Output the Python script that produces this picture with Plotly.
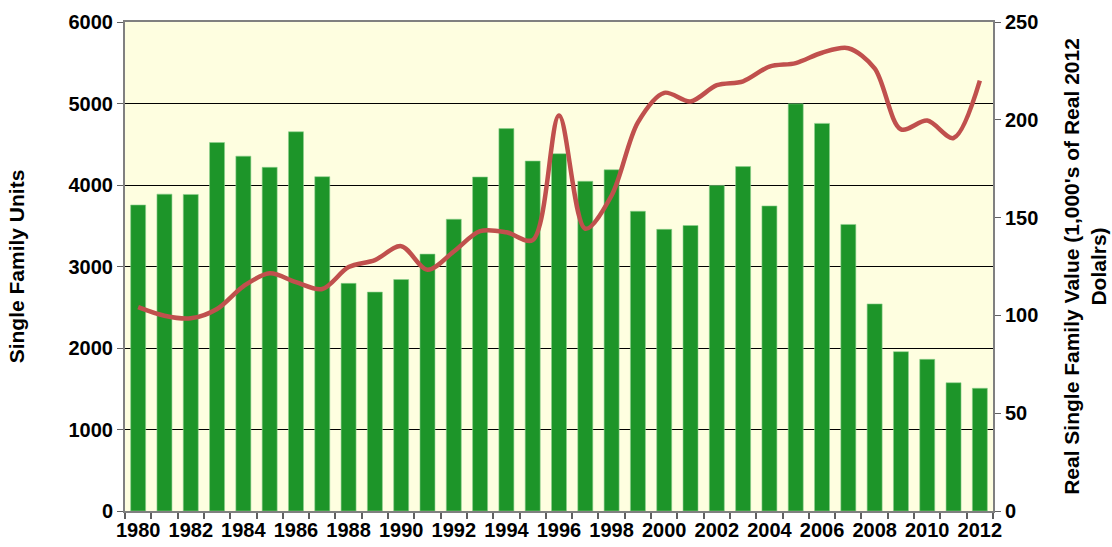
import plotly.graph_objects as go

years = list(range(1980, 2013))
units = [3755, 3888, 3884, 4521, 4354, 4217, 4653, 4102, 2793, 2686,
         2840, 3152, 3580, 4098, 4692, 4294, 4384, 4046, 4187, 3678,
         3456, 3503, 3995, 4226, 3743, 4996, 4756, 3516, 2541, 1955,
         1861, 1574, 1506]
value = [104.2, 99.8, 98.5, 103.3, 114.9, 121.5, 117.0, 113.5, 124.7, 128.3,
         135.4, 123.3, 132.7, 143.1, 142.5, 138.5, 202.2, 144.3, 161.3, 198.7,
         213.8, 209.4, 217.7, 219.7, 227.2, 229.0, 234.3, 236.6, 226.3, 195.1,
         199.6, 190.7, 220.0]
year_labels = [y for y in years if y % 2 == 0]

font = "Liberation Sans, Arial, sans-serif"

fig = go.Figure()
fig.add_trace(go.Bar(x=years, y=units, name="Single Family Units",
                     marker=dict(color="#1d9529", line=dict(color="#8fd08f", width=0.6))))
fig.add_trace(go.Scatter(x=years, y=value, yaxis="y2", mode="lines",
                         name="Real Single Family Value",
                         line=dict(color="#c0504d", width=4.5, shape="spline", smoothing=0.9)))

fig.update_layout(
    width=1112, height=547,
    margin=dict(l=125, r=119, t=22, b=36, autoexpand=False),
    paper_bgcolor="white",
    plot_bgcolor="#fefee0",
    showlegend=False,
    bargap=0.43,
    font=dict(family=font, color="black"),
    xaxis=dict(range=[1979.5, 2012.5], tickvals=year_labels,
               ticktext=["<b>%d</b>" % y for y in year_labels],
               tickfont=dict(size=20), ticks="", showgrid=False, automargin=False,
               showline=True, linecolor="#808080", linewidth=2, mirror=True,
               minor=dict(tick0=1979.5, dtick=1, ticks="outside", ticklen=6,
                          tickcolor="#606060", tickwidth=1.5, showgrid=False),
               zeroline=False),
    yaxis=dict(range=[0, 6000], tickvals=list(range(0, 6001, 1000)),
               ticktext=["<b>%d</b>" % v for v in range(0, 6001, 1000)],
               tickfont=dict(size=20), ticks="outside", ticklen=6, automargin=False,
               tickcolor="#606060", showgrid=True, gridcolor="black", gridwidth=1,
               showline=True, linecolor="#808080", linewidth=2, zeroline=False,
               title=dict(text="<b>Single Family Units</b>", font=dict(size=21),
                          standoff=38)),
    yaxis2=dict(range=[0, 250], overlaying="y", side="right",
                tickvals=list(range(0, 251, 50)),
                ticktext=["<b>%d</b>" % v for v in range(0, 251, 50)],
                tickfont=dict(size=20), ticks="outside", ticklen=6, automargin=False,
                tickcolor="#606060", showgrid=False, zeroline=False,
                showline=True, linecolor="#808080", linewidth=2,
                title=dict(text="<b>Real Single Family Value (1,000's of Real 2012<br>Dolalrs)</b>",
                           font=dict(size=21), standoff=27)),
)

# drop the page's default body margin so the figure sits at the window's corner
fig.write_html("out.html", config={"displayModeBar": False},
               post_script="document.body.style.margin='0';document.body.style.overflow='hidden';")
